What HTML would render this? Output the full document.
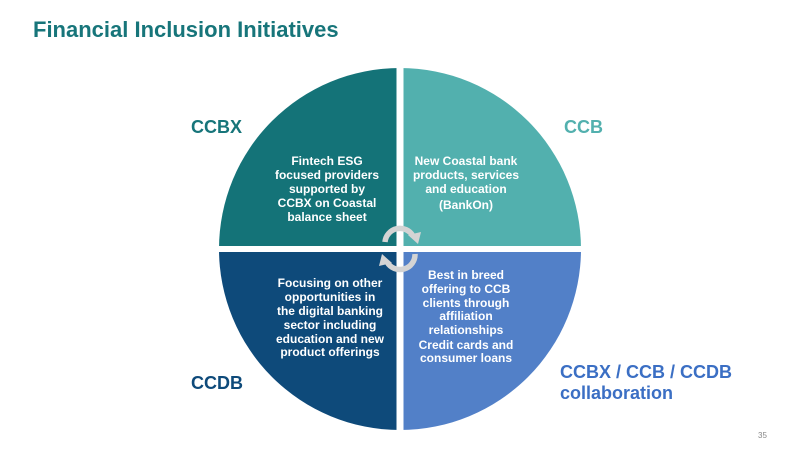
<!DOCTYPE html>
<html><head><style>
body{margin:0;width:800px;height:449px;background:#fff;overflow:hidden;font-family:"Liberation Sans",sans-serif;}
</style></head><body>
<svg width="800" height="449" viewBox="0 0 800 449" xmlns="http://www.w3.org/2000/svg" font-family="Liberation Sans, sans-serif">
<defs><clipPath id="c"><circle cx="400" cy="249" r="181"/></clipPath></defs>
<text x="33" y="37" font-size="22" font-weight="bold" fill="#17757a">Financial Inclusion Initiatives</text>
<g clip-path="url(#c)">
<rect x="200" y="60" width="196.5" height="186" fill="#147378"/>
<rect x="403.5" y="60" width="200" height="186" fill="#52b0ae"/>
<rect x="200" y="252" width="196.5" height="200" fill="#0e4a7a"/>
<rect x="403.5" y="252" width="200" height="200" fill="#5280c8"/>
</g>
<g fill="none" stroke="#d4d4d4" stroke-width="5.5">
<path d="M385 242 A15 15 0 0 1 413 236"/>
<path d="M415 254 A15 15 0 0 1 387 262"/>
</g>
<polygon points="408,235 421,232 418,244" fill="#d4d4d4"/>
<polygon points="392,263 379,266 382,254" fill="#d4d4d4"/>
<g font-size="12" font-weight="bold" fill="#fff" text-anchor="middle">
<text x="327" y="165">Fintech ESG</text>
<text x="327" y="179">focused providers</text>
<text x="327" y="193">supported by</text>
<text x="327" y="207">CCBX on Coastal</text>
<text x="327" y="221">balance sheet</text>
<text x="466" y="165">New Coastal bank</text>
<text x="466" y="179">products, services</text>
<text x="466" y="193">and education</text>
<text x="466" y="209">(BankOn)</text>
<text x="330" y="287">Focusing on other</text>
<text x="330" y="301">opportunities in</text>
<text x="330" y="315">the digital banking</text>
<text x="330" y="329">sector including</text>
<text x="330" y="343">education and new</text>
<text x="330" y="356">product offerings</text>
<text x="466" y="279">Best in breed</text>
<text x="466" y="293">offering to CCB</text>
<text x="466" y="307">clients through</text>
<text x="466" y="320">affiliation</text>
<text x="466" y="334">relationships</text>
<text x="466" y="349">Credit cards and</text>
<text x="466" y="362">consumer loans</text>
</g>
<g font-size="18" font-weight="bold">
<text x="191" y="133" fill="#17757a">CCBX</text>
<text x="564" y="133" fill="#52b0ae">CCB</text>
<text x="191" y="389" fill="#0e4a7a">CCDB</text>
<text x="560" y="378" fill="#3b6fc4">CCBX / CCB / CCDB</text>
<text x="560" y="399" fill="#3b6fc4">collaboration</text>
</g>
<text x="758" y="438" font-size="8" fill="#888">35</text>
</svg>
</body></html>
